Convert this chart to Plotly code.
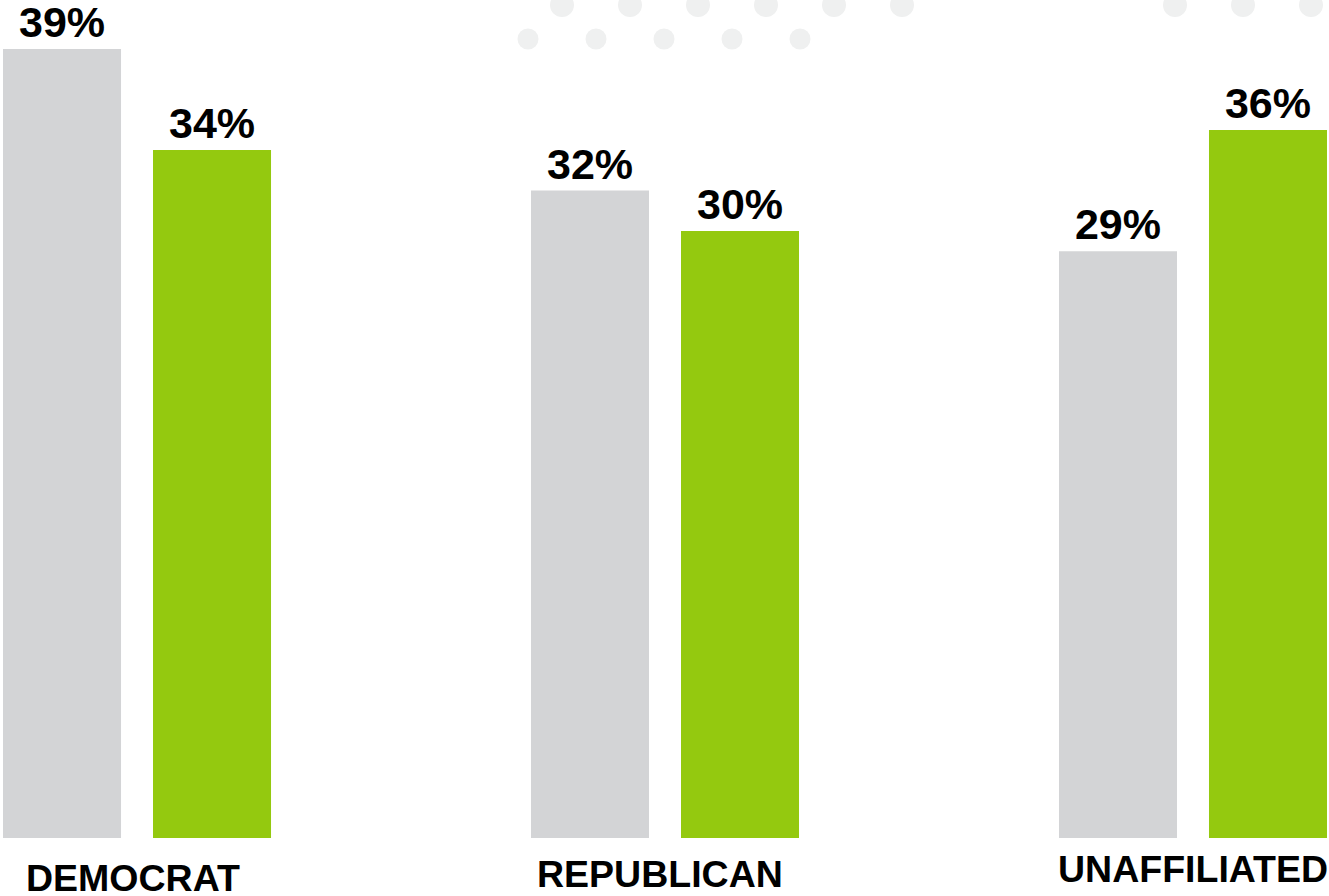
import plotly.graph_objects as go

# ---- data ----
categories = ["DEMOCRAT", "REPUBLICAN", "UNAFFILIATED"]
series_a = [39, 32, 29]          # gray bars
series_b = [34, 30, 35]          # green bars (heights as drawn)
labels_a = ["39%", "32%", "29%"]
labels_b = ["34%", "30%", "36%"]

# decorative dots (pixel centres)
dots_row1 = [562, 630, 698, 766, 834, 902, 1175, 1243, 1311]
dots_row2 = [528, 596, 664, 732, 800]

W, H = 1329, 896
PLOT_H = 838
GRAY = "#D3D4D6"
GREEN = "#94C90F"
FONT = "Liberation Sans, Arial, sans-serif"

fig = go.Figure()
fig.add_trace(go.Bar(x=categories, y=series_a, marker=dict(color=GRAY, line=dict(width=0)),
                     text=labels_a, textposition="outside", cliponaxis=False,
                     textfont=dict(family=FONT, size=43, color="#000000"), name="a"))
fig.add_trace(go.Bar(x=categories, y=series_b, marker=dict(color=GREEN, line=dict(width=0)),
                     text=labels_b, textposition="outside", cliponaxis=False,
                     textfont=dict(family=FONT, size=43, color="#000000"), name="b"))

shapes = []
def circ(px, py, r):
    return dict(type="circle", xref="paper", yref="paper", layer="below",
                x0=(px - r) / W, x1=(px + r) / W,
                y0=1 - (py + r) / PLOT_H, y1=1 - (py - r) / PLOT_H,
                fillcolor="#EFF0F0", line=dict(width=0))
for px in dots_row1:
    shapes.append(circ(px, 5, 12))
for px in dots_row2:
    shapes.append(circ(px, 39, 10.5))

label_y = [878, 874, 869]
label_dx = [-4, -5, 0]
annotations = []
for cat, py, dx in zip(categories, label_y, label_dx):
    annotations.append(dict(x=cat, xref="x", y=1 - py / PLOT_H, yref="paper", xshift=dx,
                            text="<b>%s</b>" % cat, showarrow=False, yanchor="middle",
                            font=dict(family=FONT, size=37.5, color="#000000")))

fig.update_layout(
    width=W, height=H, barmode="group", bargap=0.4318, bargroupgap=0.2133,
    margin=dict(l=0, r=0, t=0, b=H - PLOT_H, pad=0),
    paper_bgcolor="white", plot_bgcolor="white", showlegend=False,
    xaxis=dict(range=[-0.2595, 2.2576], showticklabels=False, showgrid=False,
               zeroline=False, showline=False, fixedrange=True),
    yaxis=dict(range=[0, 41.42], showticklabels=False, showgrid=False,
               zeroline=False, showline=False, fixedrange=True),
    shapes=shapes, annotations=annotations,
    font=dict(family=FONT),
)
fig.update_traces(texttemplate="<b>%{text}</b>", constraintext="none")

fig.write_html("out.html", config={"displayModeBar": False},
               post_script="document.body.style.margin='0';document.body.style.overflow='hidden';")
